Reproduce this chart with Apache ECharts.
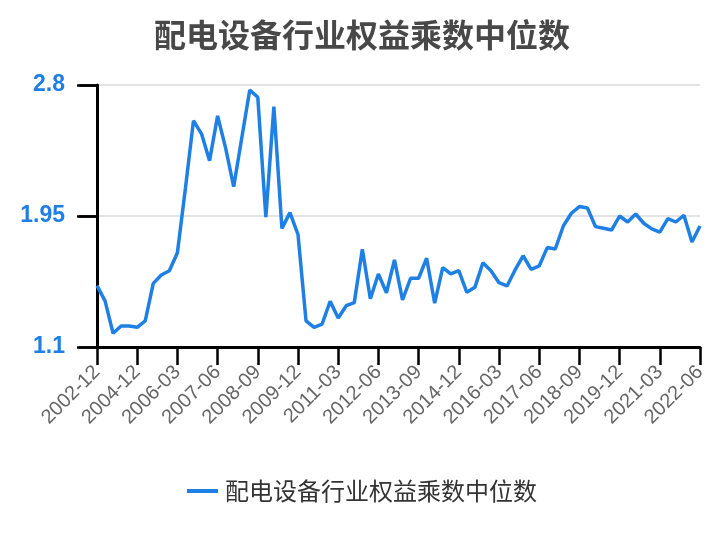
<!DOCTYPE html>
<html>
<head>
<meta charset="utf-8">
<script src="https://cdn.jsdelivr.net/npm/echarts@6/dist/echarts.min.js"></script>
<style>html,body{margin:0;padding:0;background:#fff}#c{width:724px;height:540px}</style>
</head>
<body>
<div id="c"></div>
<script>
var titleText = '配电设备行业权益乘数中位数';
var seriesName = '配电设备行业权益乘数中位数';
var categories = ['2002-12','2003-06','2003-12','2004-06','2004-09','2004-12',
  '2005-03','2005-06','2005-09','2005-12','2006-03','2006-06','2006-09','2006-12',
  '2007-03','2007-06','2007-09','2007-12','2008-03','2008-06','2008-09','2008-12',
  '2009-03','2009-06','2009-09','2009-12','2010-03','2010-06','2010-09','2010-12',
  '2011-03','2011-06','2011-09','2011-12','2012-03','2012-06','2012-09','2012-12',
  '2013-03','2013-06','2013-09','2013-12','2014-03','2014-06','2014-09','2014-12',
  '2015-03','2015-06','2015-09','2015-12','2016-03','2016-06','2016-09','2016-12',
  '2017-03','2017-06','2017-09','2017-12','2018-03','2018-06','2018-09','2018-12',
  '2019-03','2019-06','2019-09','2019-12','2020-03','2020-06','2020-09','2020-12',
  '2021-03','2021-06','2021-09','2021-12','2022-03','2022-06'];
var values = [1.498,1.399,1.189,1.236,1.236,1.228,1.269,1.513,1.567,1.595,
  1.712,2.130,2.569,2.483,2.309,2.600,2.390,2.140,2.455,2.768,
  2.720,1.942,2.660,1.870,1.972,1.830,1.270,1.228,1.249,1.397,
  1.288,1.368,1.388,1.734,1.413,1.574,1.452,1.665,1.405,1.546,
  1.546,1.676,1.384,1.615,1.574,1.595,1.455,1.487,1.647,1.595,
  1.517,1.496,1.600,1.692,1.604,1.626,1.745,1.736,1.885,1.968,
  2.011,2.002,1.881,1.870,1.859,1.950,1.911,1.963,1.903,1.866,
  1.846,1.933,1.911,1.955,1.781,1.885];
var yMin = 1.1, yMax = 2.8, yStep = 0.85;

var chart = echarts.init(document.getElementById('c'), null, {renderer: 'canvas'});
var ff = '"Liberation Sans", Arial, "Noto Sans CJK SC", sans-serif';
function fmt(v) { return String(+v.toFixed(2)); }
chart.setOption({
  animation: false,
  textStyle: {fontFamily: ff},
  title: {
    text: titleText, left: 'center', top: 14,
    textStyle: {fontSize: 32, fontWeight: 'bold', color: '#484848', fontFamily: '"Noto Sans CJK SC", sans-serif'}
  },
  legend: {
    top: 474, left: 'center',
    icon: 'rect', itemWidth: 31, itemHeight: 4, itemGap: 10,
    textStyle: {fontSize: 24, color: '#333', fontFamily: '"Noto Sans CJK SC", sans-serif', padding: [0, 0, 0, 2]},
    data: [seriesName]
  },
  grid: [
    {left: 97, right: 24, top: 85, bottom: 193, containLabel: false},
    {left: 77, width: 19, top: 85, bottom: 193, containLabel: false}
  ],
  xAxis: [{
    type: 'category', data: categories, boundaryGap: false, gridIndex: 0,
    axisLine: {onZero: false, lineStyle: {color: '#000', width: 3}},
    axisTick: {show: true, interval: 4, length: 18, lineStyle: {color: '#000', width: 2.5}},
    axisLabel: {interval: 4, rotate: 45, fontSize: 20, color: '#666', margin: 22},
    splitLine: {show: false}
  }, {
    type: 'value', gridIndex: 1, min: 0, max: 1,
    axisLine: {show: false}, axisTick: {show: false}, axisLabel: {show: false}, splitLine: {show: false}
  }],
  yAxis: [{
    type: 'value', min: yMin, max: yMax, interval: yStep, gridIndex: 0,
    axisLine: {show: true, onZero: false, lineStyle: {color: '#000', width: 3}},
    axisTick: {show: true, length: 18, lineStyle: {color: '#000', width: 2.5}},
    axisLabel: {fontSize: 23, fontWeight: 'bold', color: '#1e80e4', margin: 32, formatter: fmt},
    splitLine: {show: true, lineStyle: {color: '#e3e3e3', width: 2}}
  }, {
    type: 'value', min: yMin, max: yMax, interval: yStep, gridIndex: 1,
    axisLine: {show: false}, axisTick: {show: false}, axisLabel: {show: false},
    splitLine: {show: true, lineStyle: {color: '#000', width: 2.5}}
  }],
  series: [{
    name: seriesName, type: 'line', data: values, symbol: 'none', xAxisIndex: 0, yAxisIndex: 0,
    lineStyle: {color: '#1e80e4', width: 3.5}, itemStyle: {color: '#1e80e4'}
  }, {
    name: 'tickHelper', type: 'line', data: [], xAxisIndex: 1, yAxisIndex: 1, symbol: 'none', silent: true
  }]
});
</script>
</body>
</html>
